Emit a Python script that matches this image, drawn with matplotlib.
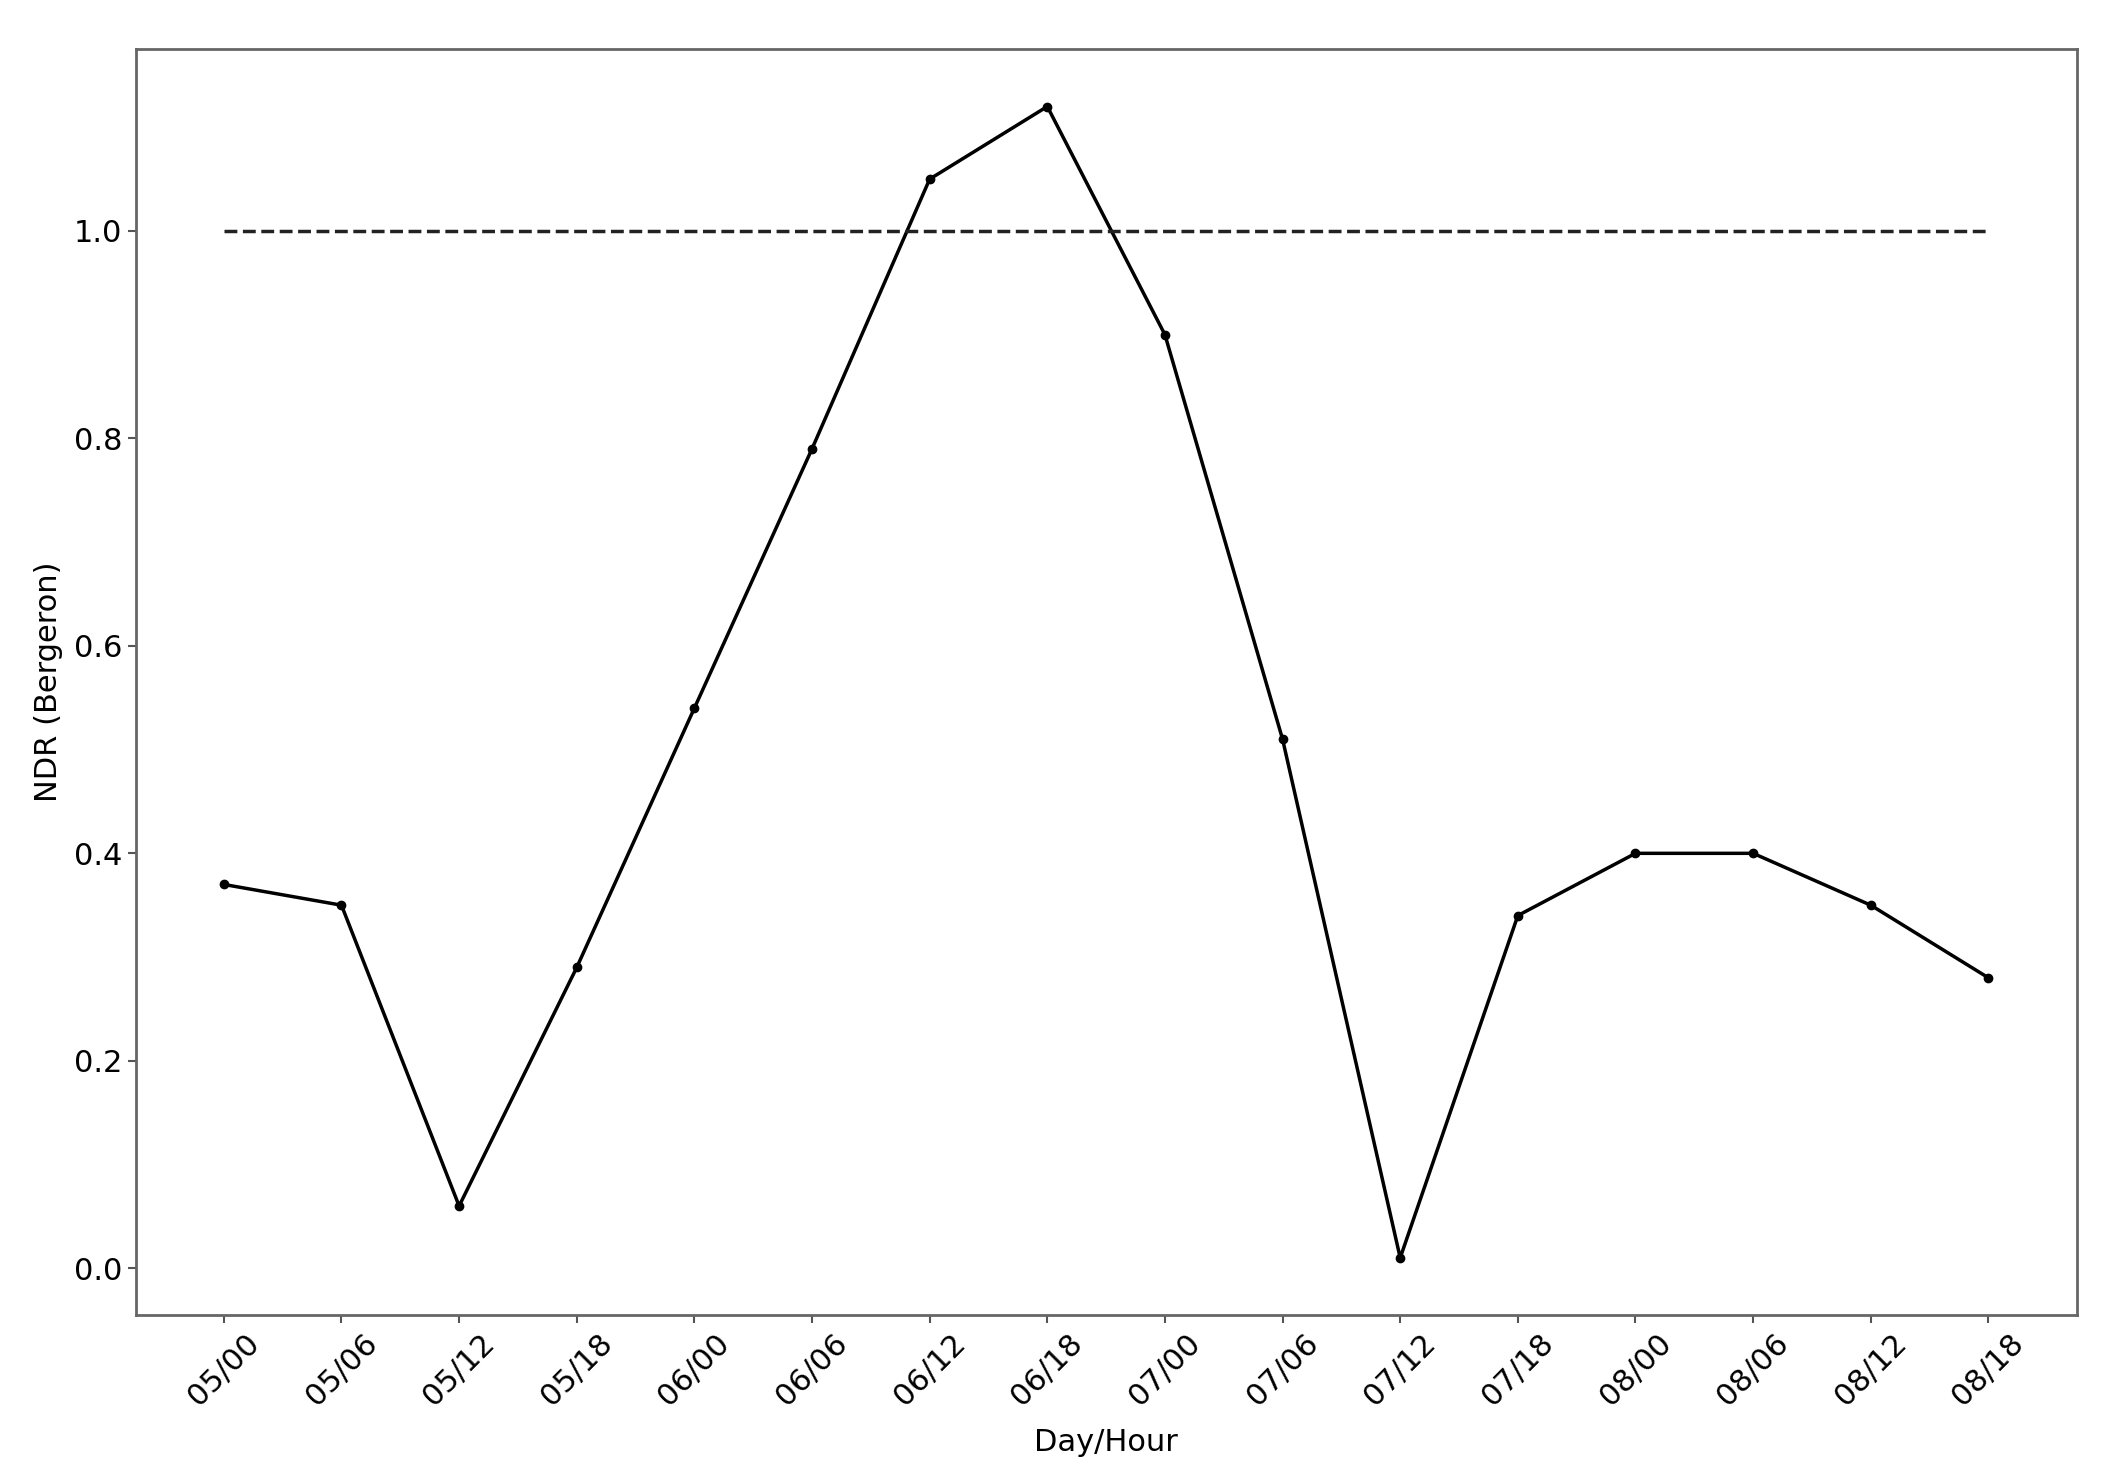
import matplotlib.pyplot as plt
import numpy as np

labels = ["05/00", "05/06", "05/12", "05/18", "06/00", "06/06", "06/12", "06/18",
          "07/00", "07/06", "07/12", "07/18", "08/00", "08/06", "08/12", "08/18"]
ndr = [0.37, 0.35, 0.06, 0.29, 0.54, 0.79, 1.05, 1.12,
       0.90, 0.51, 0.01, 0.34, 0.40, 0.40, 0.35, 0.28]
threshold = [1.0] * len(labels)

x = np.arange(len(labels))

fig, ax = plt.subplots(figsize=(21.19, 14.83), dpi=100)
plt.subplots_adjust(left=0.064, right=0.980, top=0.967, bottom=0.113)

ax.plot(x, ndr, color="black", linewidth=2.5, marker="o", markersize=6)
ax.plot(x, threshold, color="#222222", linewidth=2.5, linestyle="--")

ax.set_xticks(x)
ax.set_xticklabels(labels, rotation=45, fontsize=22)
ax.tick_params(axis="y", labelsize=22)
ax.tick_params(color="#555555", length=6, width=1.5)
ax.set_xlabel("Day/Hour", fontsize=22, labelpad=12)
ax.set_ylabel("NDR (Bergeron)", fontsize=22, labelpad=8)
for s in ax.spines.values():
    s.set_color("#666666")
    s.set_linewidth(2)

plt.savefig("out.png", dpi=100)
